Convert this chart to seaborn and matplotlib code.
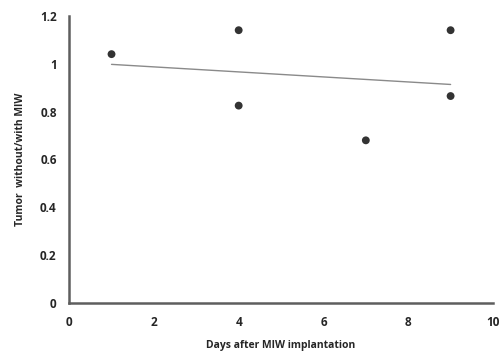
import matplotlib
matplotlib.use("Agg")
import matplotlib.pyplot as plt
import matplotlib.ticker as mticker
import seaborn as sns
import pandas as pd

days = [1, 4, 4, 7, 9, 9]
ratio = [1.04, 1.14, 0.825, 0.68, 1.14, 0.865]
x_ticks = [0, 2, 4, 6, 8, 10]
y_ticks = [0, 0.2, 0.4, 0.6, 0.8, 1.0, 1.2]

sns.set_theme(style="white")
plt.rcParams['font.family'] = ['Open Sans', 'DejaVu Sans']

df = pd.DataFrame({"days": days, "ratio": ratio})

fig = plt.figure(figsize=(5.01, 3.6), dpi=100)
ax = fig.add_axes([0.138, 0.158, 0.846, 0.798])

sns.regplot(data=df, x="days", y="ratio", ax=ax, ci=None, truncate=True,
            scatter_kws=dict(s=32, color="black", edgecolor="none", zorder=3),
            line_kws=dict(color="#8a8a8a", lw=1.0))

ax.set_xlim(0, 10)
ax.set_ylim(0, 1.2)
ax.set_xticks(x_ticks)
ax.set_yticks(y_ticks)
ax.yaxis.set_major_formatter(mticker.FuncFormatter(lambda v, p: f"{v:g}"))
for s in ["top", "right"]:
    ax.spines[s].set_visible(False)
for s in ["left", "bottom"]:
    ax.spines[s].set_color("#5e5e5e")
    ax.spines[s].set_linewidth(1.8)
ax.tick_params(axis="both", direction="out", length=3, width=1.2, color="#5e5e5e",
               labelsize=8.5, pad=6)
for lab in ax.get_xticklabels() + ax.get_yticklabels():
    lab.set_fontweight("bold")
    lab.set_color("#262626")
ax.set_xlabel("Days after MIW implantation", fontsize=7.5, fontweight="bold", color="#262626", labelpad=8)
ax.set_ylabel("Tumor  without/with MIW", fontsize=7.5, fontweight="bold", color="#262626", labelpad=10)

fig.savefig("out.png", dpi=100)
